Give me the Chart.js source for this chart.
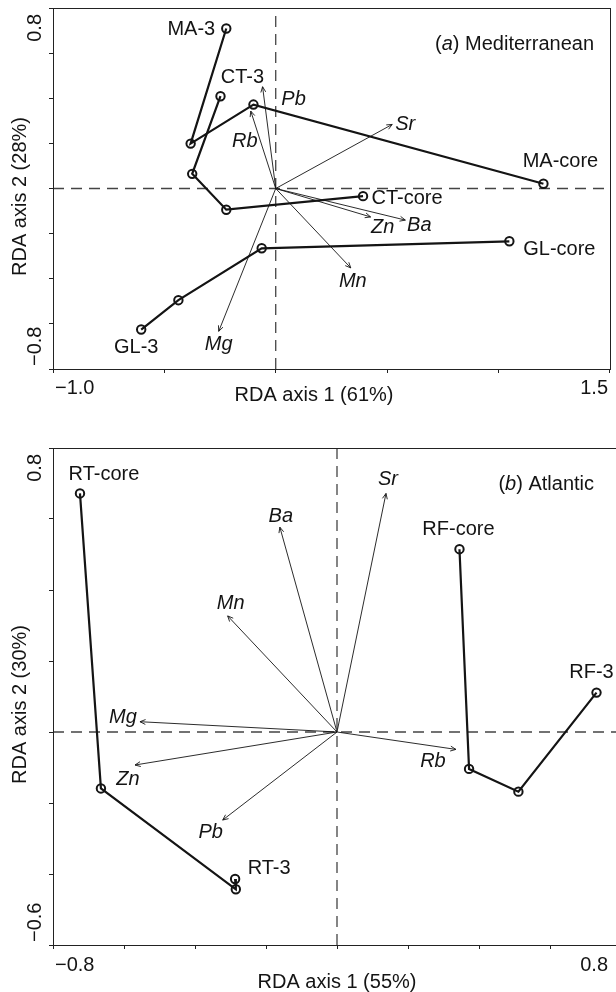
<!DOCTYPE html>
<html>
<head>
<meta charset="utf-8">
<title>RDA biplots</title>
<script src="https://cdn.jsdelivr.net/npm/chart.js"></script>
<style>
  html, body { margin: 0; padding: 0; background: #fff; overflow: hidden; }
  #wrap { position: relative; width: 616px; height: 992px; overflow: hidden; }
  #medChart { position: absolute; left: 0; top: 0; }
  #atlChart { position: absolute; left: 0; top: 430px; }
</style>
</head>
<body>
<div id="wrap">
  <canvas id="medChart" width="616" height="430"></canvas>
  <canvas id="atlChart" width="640" height="562"></canvas>
</div>
<script>
// ---- (a) Mediterranean: site scores, ordered from "-3" to "-core"
const medSiteNames = ['MA', 'CT', 'GL'];
const maX = [-0.222, -0.382, -0.100, 1.202];
const maY = [0.709, 0.199, 0.372, 0.021];
const ctX = [-0.248, -0.375, -0.222, 0.392];
const ctY = [0.409, 0.065, -0.094, -0.034];
const glX = [-0.604, -0.437, -0.063, 1.049];
const glY = [-0.625, -0.495, -0.265, -0.234];
// element vectors
const medElems = ['Pb', 'Rb', 'Mg', 'Sr', 'Zn', 'Ba', 'Mn'];
const medElemX = [-0.059, -0.112, -0.256, 0.523, 0.426, 0.582, 0.337];
const medElemY = [0.451, 0.343, -0.633, 0.284, -0.126, -0.140, -0.352];
const medXRange = [-1.0, 1.5];
const medYRange = [-0.8, 0.8];
const medXTicks = ['\u22121.0', '1.5'];
const medYTicks = ['0.8', '\u22120.8'];

// ---- (b) Atlantic
const atlSiteNames = ['RT', 'RF'];
const rtX = [-0.287, -0.285, -0.665, -0.724];
const rtY = [-0.414, -0.443, -0.159, 0.672];
const rfX = [0.731, 0.511, 0.372, 0.345];
const rfY = [0.111, -0.168, -0.104, 0.515];
const atlElems = ['Sr', 'Ba', 'Mn', 'Mg', 'Zn', 'Pb', 'Rb'];
const atlElemX = [0.138, -0.161, -0.308, -0.555, -0.569, -0.322, 0.335];
const atlElemY = [0.672, 0.577, 0.327, 0.029, -0.093, -0.248, -0.049];
const atlXRange = [-0.8, 0.8];
const atlYRange = [-0.6, 0.8];
const atlXTicks = ['\u22120.8', '0.8'];
const atlYTicks = ['0.8', '\u22120.6'];

// label nudges in px: [first point, last point] per site, one per element
const medSiteOff = [[[-35, 1], [17, -22]], [[22, -19], [44, 2]], [[-5, 18], [50, 8]]];
const medElemOff = [[31, 13], [-6, 30], [0, 13], [13, 0], [12, 11], [14, 5], [2, 14]];
const atlSiteOff = [[[34, -10], [24, -19]], [[-5, -20], [-1, -20]]];
const atlElemOff = [[2, -14], [1, -11], [3, -12], [-17, -4], [-7, 14], [-12, 12], [-23, 12]];

const FAMILY = "'Liberation Sans', Arial, sans-serif";
const FS = 20;
const INK = '#141414';

function trajectory(xs, ys) {
  return {
    data: xs.map((x, i) => ({ x: x, y: ys[i] })),
    showLine: true, borderColor: INK, borderWidth: 2.2,
    pointRadius: 4.2, pointBorderWidth: 2,
    pointBorderColor: INK, pointBackgroundColor: 'rgba(0,0,0,0)', order: 1
  };
}
function vector(x, y) {
  return {
    data: [{ x: 0, y: 0 }, { x: x, y: y }],
    showLine: true, borderColor: INK, borderWidth: 0.9, pointRadius: 0,
    arrow: true, order: 2
  };
}
function refLine(pts) {
  return {
    data: pts, showLine: true, borderColor: '#444', borderWidth: 1.3,
    borderDash: [11, 7], pointRadius: 0, order: 3
  };
}

function buildPanel(names, xs, ys, siteOff, elems, ex, ey, elemOff, xr, yr) {
  const datasets = [], labels = [];
  names.forEach((n, k) => {
    const i = datasets.length;
    const last = xs[k].length - 1;
    datasets.push(trajectory(xs[k], ys[k]));
    labels.push({ ds: i, pt: 0, text: n + '-3', dx: siteOff[k][0][0], dy: siteOff[k][0][1] });
    labels.push({ ds: i, pt: last, text: n + '-core', dx: siteOff[k][1][0], dy: siteOff[k][1][1] });
  });
  elems.forEach((e, k) => {
    const i = datasets.length;
    datasets.push(vector(ex[k], ey[k]));
    labels.push({ ds: i, pt: 1, text: e, italic: true, dx: elemOff[k][0], dy: elemOff[k][1] });
  });
  datasets.push(refLine([{ x: xr[0], y: 0 }, { x: xr[1], y: 0 }]));
  datasets.push(refLine([{ x: 0, y: yr[0] }, { x: 0, y: yr[1] }]));
  return { datasets, labels };
}

function fontStr(italic) { return (italic ? 'italic ' : '') + FS + 'px ' + FAMILY; }

const biplotText = {
  id: 'biplotText',
  afterDatasetsDraw(chart, args, o) {
    const ctx = chart.ctx, a = chart.chartArea;
    ctx.save();
    ctx.strokeStyle = INK;
    ctx.fillStyle = INK;
    // arrow heads
    ctx.lineWidth = 0.9;
    chart.data.datasets.forEach((ds, i) => {
      if (!ds.arrow) return;
      const p = chart.getDatasetMeta(i).data;
      const ang = Math.atan2(p[1].y - p[0].y, p[1].x - p[0].x);
      const L = 6, w = 0.42;
      ctx.beginPath();
      ctx.moveTo(p[1].x - L * Math.cos(ang - w), p[1].y - L * Math.sin(ang - w));
      ctx.lineTo(p[1].x, p[1].y);
      ctx.lineTo(p[1].x - L * Math.cos(ang + w), p[1].y - L * Math.sin(ang + w));
      ctx.stroke();
    });
    // site and element labels
    ctx.textAlign = 'center';
    ctx.textBaseline = 'middle';
    o.labels.forEach(l => {
      const p = chart.getDatasetMeta(l.ds).data[l.pt];
      ctx.font = fontStr(l.italic);
      ctx.fillText(l.text, p.x + l.dx, p.y + l.dy);
    });
    // panel title, e.g. "(a) Mediterranean" with italic letter
    const parts = [['(', false], [o.panel[0], true], [') ' + o.panel[1], false]];
    let w = 0;
    parts.forEach(q => { ctx.font = fontStr(q[1]); w += ctx.measureText(q[0]).width; });
    let x = o.panelRight - w;
    ctx.textAlign = 'left';
    parts.forEach(q => {
      ctx.font = fontStr(q[1]);
      ctx.fillText(q[0], x, a.top + 36);
      x += ctx.measureText(q[0]).width;
    });
    // box
    ctx.lineWidth = 1;
    ctx.strokeStyle = '#222';
    ctx.strokeRect(Math.round(a.left) + 0.5, Math.round(a.top) + 0.5,
      Math.round(a.right - a.left), Math.round(a.bottom - a.top));
    // axis tick labels at the extremes, R style
    ctx.font = fontStr(false);
    ctx.textAlign = 'left';
    ctx.fillText(o.xTicks[0], a.left + 2, a.bottom + o.tickDy);
    ctx.textAlign = 'right';
    ctx.fillText(o.xTicks[1], 608, a.bottom + o.tickDy);
    ctx.textAlign = 'center';
    ctx.fillText(o.xTitle, o.xTitleX, a.bottom + o.xTitleDy);
    ctx.save();
    ctx.translate(35, a.top + 6);
    ctx.rotate(-Math.PI / 2);
    ctx.textAlign = 'right';
    ctx.fillText(o.yTicks[0], 0, 0);
    ctx.restore();
    ctx.save();
    ctx.translate(35, a.bottom - 3);
    ctx.rotate(-Math.PI / 2);
    ctx.textAlign = 'left';
    ctx.fillText(o.yTicks[1], 0, 0);
    ctx.restore();
    ctx.save();
    ctx.translate(20, (a.top + a.bottom) / 2 + 8);
    ctx.rotate(-Math.PI / 2);
    ctx.textAlign = 'center';
    ctx.fillText(o.yTitle, 0, 0);
    ctx.restore();
    ctx.restore();
  }
};

function axis(range, step) {
  return {
    type: 'linear', min: range[0], max: range[1],
    ticks: { display: false, stepSize: step },
    grid: { drawOnChartArea: false, drawTicks: true, tickLength: 4, color: '#222', lineWidth: 1 },
    border: { display: true, color: '#222', width: 1 }
  };
}

function makeChart(id, panel, xr, yr, xStep, pad, textOpts) {
  textOpts.labels = panel.labels;
  return new Chart(document.getElementById(id), {
    type: 'scatter',
    data: { datasets: panel.datasets },
    options: {
      responsive: false, animation: false, events: [],
      layout: { padding: pad },
      plugins: { legend: { display: false }, tooltip: { enabled: false }, biplotText: textOpts },
      scales: { x: axis(xr, xStep), y: axis(yr, 0.2) }
    },
    plugins: [biplotText]
  });
}

const med = buildPanel(medSiteNames, [maX, ctX, glX], [maY, ctY, glY], medSiteOff,
  medElems, medElemX, medElemY, medElemOff, medXRange, medYRange);
makeChart('medChart', med, medXRange, medYRange, 0.5,
  { left: 49, top: 8, right: 1, bottom: 57 },
  { panel: ['a', 'Mediterranean'], panelRight: 594, xTicks: medXTicks, yTicks: medYTicks,
    xTitle: 'RDA axis 1 (61%)', yTitle: 'RDA axis 2 (28%)', xTitleX: 314, xTitleDy: 26, tickDy: 19 });

const atl = buildPanel(atlSiteNames, [rtX, rfX], [rtY, rfY], atlSiteOff,
  atlElems, atlElemX, atlElemY, atlElemOff, atlXRange, atlYRange);
makeChart('atlChart', atl, atlXRange, atlYRange, 0.2,
  { left: 49, top: 18, right: 19, bottom: 43 },
  { panel: ['b', 'Atlantic'], panelRight: 594, xTicks: atlXTicks, yTicks: atlYTicks,
    xTitle: 'RDA axis 1 (55%)', yTitle: 'RDA axis 2 (30%)', xTitleX: 337, xTitleDy: 37, tickDy: 20.5 });
</script>
</body>
</html>
